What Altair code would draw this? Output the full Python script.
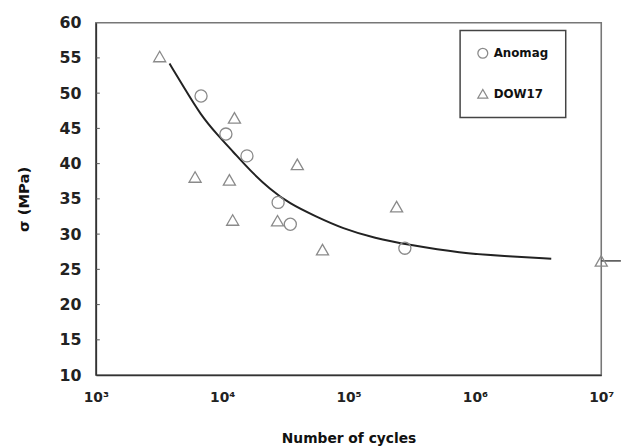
import altair as alt
import pandas as pd

# Data
anomag_cycles = [6800, 10700, 15700, 27700, 34600, 279000]
anomag_sigma = [49.6, 44.2, 41.1, 34.5, 31.4, 28.0]

dow_cycles = [3200, 6100, 11400, 12500, 12100, 27400, 39300, 62200, 240000, 10000000]
dow_sigma = [55.2, 38.1, 37.7, 46.5, 32.0, 31.9, 39.9, 27.8, 33.9, 26.2]

curve_cycles = [3830, 5020, 6760, 9140, 12330, 16630, 23820, 34200, 55200,
                89300, 162600, 295800, 772700, 1690000, 4020000]
curve_sigma = [54.2, 50.7, 46.9, 44.1, 41.6, 39.0, 36.4, 34.3, 32.5,
               30.8, 29.4, 28.5, 27.3, 26.9, 26.5]

runout_cycles = [10000000, 14300000]
runout_sigma = [26.2, 26.2]

series_names = ["Anomag", "DOW17"]
x_tick_values = [1e3, 1e4, 1e5, 1e6, 1e7]
y_label_values = [10, 15, 20, 25, 30, 35, 40, 45, 50, 55, 60]
y_tick_values = [15, 20, 25, 30, 35, 40, 45, 50, 55]

points = pd.DataFrame({
    "N": anomag_cycles + dow_cycles,
    "sigma": anomag_sigma + dow_sigma,
    "series": [series_names[0]] * len(anomag_cycles) + [series_names[1]] * len(dow_cycles),
})
curve = pd.DataFrame({"N": curve_cycles, "sigma": curve_sigma})
runout = pd.DataFrame({"N": runout_cycles, "sigma": runout_sigma})
yticks = pd.DataFrame({"sigma": y_tick_values})

FONT = "DejaVu Sans"
xscale = alt.Scale(type="log", domain=[1e3, 1e7])
yscale = alt.Scale(domain=[10, 60], nice=False, zero=False)

xaxis = alt.Axis(
    values=x_tick_values,
    labelExpr="'10' + ['⁰','¹','²','³','⁴','⁵','⁶','⁷'][round(log(datum.value)/LN10)]",
    title="Number of cycles", grid=False, ticks=False, tickSize=0,
    domainColor="#333", domainWidth=1.6,
    labelFont=FONT, labelFontWeight="bold", labelFontSize=14, labelColor="#222",
    labelPadding=16, labelFlush=False, labelOverlap=False,
    titleFont=FONT, titleFontWeight="bold", titleFontSize=14, titleColor="#111",
    titlePadding=27,
)
yaxis = alt.Axis(
    values=y_label_values, tickCount=11,
    title="σ (MPa)", grid=False, ticks=False, tickSize=0,
    domainColor="#333", domainWidth=1.6,
    labelFont=FONT, labelFontWeight="bold", labelFontSize=16, labelColor="#222",
    labelPadding=15, labelOverlap=False, labelFlush=False,
    titleFont=FONT, titleFontWeight="bold", titleFontSize=15, titleColor="#111",
    titlePadding=28,
)

X = alt.X("N:Q", scale=xscale, axis=xaxis)
Y = alt.Y("sigma:Q", scale=yscale, axis=yaxis)

line = alt.Chart(curve).mark_line(color="#222", strokeWidth=2, interpolate="basis").encode(
    x=X, y=Y)

run = alt.Chart(runout).mark_line(color="#444", strokeWidth=1.5, clip=False).encode(x=X, y=Y)

ticks = alt.Chart(yticks).mark_rule(color="#555", strokeWidth=1).encode(
    y=Y, x=alt.value(0), x2=alt.value(4))

pts = alt.Chart(points).mark_point(
    filled=False, color="#8a8a8a", size=150, strokeWidth=1.3, clip=False, opacity=1
).encode(
    x=X,
    y=Y,
    shape=alt.Shape("series:N",
                    scale=alt.Scale(domain=series_names, range=["circle", "triangle-up"]),
                    legend=alt.Legend(
                        orient="none", legendX=369, legendY=8, title=None,
                        strokeColor="#444", padding=17, rowPadding=26,
                        labelFont=FONT, labelFontWeight="bold", labelFontSize=12,
                        labelColor="#111", labelOffset=5,
                        symbolSize=100, symbolStrokeColor="#8a8a8a",
                        symbolFillColor="transparent", symbolStrokeWidth=1.3,
                    )),
)

chart = alt.layer(line, run, ticks, pts).properties(
    width=512, height=357,
    autosize=alt.AutoSizeParams(type="none"),
    padding={"left": 89, "top": 12, "right": 20, "bottom": 70},
    background="white",
).configure_view(stroke="#777", strokeWidth=1.6).configure_legend(strokeWidth=1.5)

chart.save("out.html", embed_options={"renderer": "svg", "actions": False})
